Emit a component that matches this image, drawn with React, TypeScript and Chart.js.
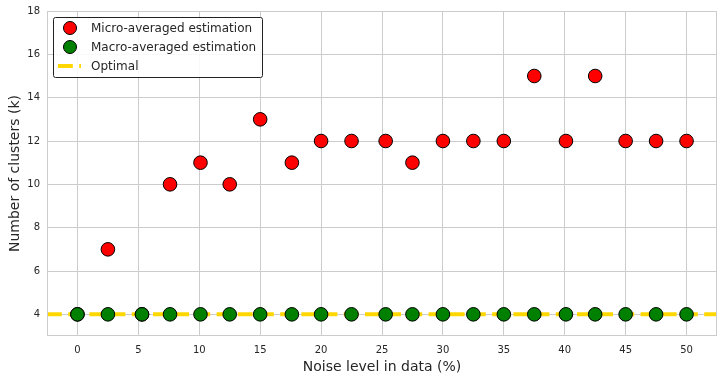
import React, { useEffect, useRef } from "react";
import { Chart, registerables } from "chart.js";

Chart.register(...registerables);

const noiseLevels = [0, 2.5, 5.3, 7.6, 10.1, 12.5, 15, 17.6, 20, 22.5, 25.3, 27.5, 30, 32.5, 35, 37.5, 40.1, 42.5, 45, 47.5, 50];
const microValues = [4, 7, 4, 10, 11, 10, 13, 11, 12, 12, 12, 11, 12, 12, 12, 15, 12, 15, 12, 12, 12];
const macroValues = [4, 4, 4, 4, 4, 4, 4, 4, 4, 4, 4, 4, 4, 4, 4, 4, 4, 4, 4, 4, 4];
const optimalValue = 4;
const xTicks = [0, 5, 10, 15, 20, 25, 30, 35, 40, 45, 50];
const yTicks = [4, 6, 8, 10, 12, 14, 16, 18];
const legendLabels = ["Micro-averaged estimation", "Macro-averaged estimation", "Optimal"];

const FONT = "'DejaVu Sans', sans-serif";
const DASH = [14.8, 6.4];

// plot frame inside the 723x381 canvas
const AREA = { left: 47, top: 11, right: 717, bottom: 336 };

const fixLayoutPlugin = {
  id: "fixLayout",
  afterLayout(chart: any) {
    const xs = chart.scales.x;
    const ys = chart.scales.y;
    xs.left = AREA.left;
    xs.right = AREA.right;
    xs.width = AREA.right - AREA.left;
    xs.top = AREA.bottom;
    xs.height = chart.height - AREA.bottom;
    xs.bottom = chart.height;
    xs.configure();
    ys.top = AREA.top;
    ys.bottom = AREA.bottom;
    ys.height = AREA.bottom - AREA.top;
    ys.right = AREA.left;
    ys.left = 7;
    ys.width = AREA.left - 7;
    ys.configure();
    const ca = chart.chartArea;
    ca.left = AREA.left;
    ca.top = AREA.top;
    ca.right = AREA.right;
    ca.bottom = AREA.bottom;
    ca.width = AREA.right - AREA.left;
    ca.height = AREA.bottom - AREA.top;
  },
};

const legendPlugin = {
  id: "insideLegend",
  afterDraw(chart: any) {
    const ctx = chart.ctx;
    const ca = chart.chartArea;
    const x0 = Math.round(ca.left) + 6;
    const y0 = Math.round(ca.top) + 6;
    const w = 209;
    const h = 60;
    ctx.save();
    ctx.fillStyle = "rgba(255,255,255,0.85)";
    ctx.strokeStyle = "#222";
    ctx.lineWidth = 1;
    ctx.beginPath();
    if (ctx.roundRect) ctx.roundRect(x0 + 0.5, y0 + 0.5, w, h, 2);
    else ctx.rect(x0 + 0.5, y0 + 0.5, w, h);
    ctx.fill();
    ctx.stroke();
    const rows = [y0 + 11, y0 + 30, y0 + 49];
    const colors = ["#ff0000", "#008000"];
    for (let i = 0; i < 2; i++) {
      ctx.beginPath();
      ctx.arc(x0 + 17, rows[i], 6.5, 0, Math.PI * 2);
      ctx.fillStyle = colors[i];
      ctx.fill();
      ctx.strokeStyle = "#000";
      ctx.lineWidth = 1;
      ctx.stroke();
    }
    ctx.beginPath();
    ctx.setLineDash(DASH);
    ctx.strokeStyle = "#ffd700";
    ctx.lineWidth = 4;
    ctx.moveTo(x0 + 5, rows[2]);
    ctx.lineTo(x0 + 28, rows[2]);
    ctx.stroke();
    ctx.setLineDash([]);
    ctx.fillStyle = "#262626";
    ctx.font = `12px ${FONT}`;
    ctx.textBaseline = "middle";
    ctx.textAlign = "left";
    for (let i = 0; i < 3; i++) {
      ctx.fillText(legendLabels[i], x0 + 38, rows[i] + 0.5);
    }
    ctx.restore();
  },
};

const borderPlugin = {
  id: "frame",
  afterDatasetsDraw(chart: any) {
    const ctx = chart.ctx;
    const ca = chart.chartArea;
    ctx.save();
    ctx.strokeStyle = "#cccccc";
    ctx.lineWidth = 1;
    ctx.strokeRect(Math.round(ca.left) + 0.5, Math.round(ca.top) + 0.5, Math.round(ca.right - ca.left) - 1, Math.round(ca.bottom - ca.top) - 1);
    ctx.restore();
  },
};

export default function App() {
  const ref = useRef<HTMLCanvasElement | null>(null);
  useEffect(() => {
    document.body.style.margin = "0";
    const canvas = ref.current;
    if (!canvas) return;
    const chart = new Chart(canvas, {
      type: "scatter",
      data: {
        datasets: [
          {
            label: "Optimal",
            type: "line",
            data: [
              { x: -2.5, y: optimalValue },
              { x: 52.5, y: optimalValue },
            ],
            borderColor: "#ffd700",
            borderWidth: 4,
            borderDash: DASH,
            pointRadius: 0,
            fill: false,
            order: 3,
          } as any,
          {
            label: "Micro-averaged estimation",
            data: noiseLevels.map((x, i) => ({ x, y: microValues[i] })),
            backgroundColor: "#ff0000",
            borderColor: "#000000",
            borderWidth: 1,
            pointRadius: 6.8,
            order: 2,
          },
          {
            label: "Macro-averaged estimation",
            data: noiseLevels.map((x, i) => ({ x, y: macroValues[i] })),
            backgroundColor: "#008000",
            borderColor: "#000000",
            borderWidth: 1,
            pointRadius: 6.8,
            order: 1,
          },
        ],
      },
      options: {
        animation: false,
        responsive: false,
        devicePixelRatio: 1,
        layout: { padding: { top: 11, right: 6, left: 7, bottom: 0 } },
        plugins: {
          legend: { display: false },
          tooltip: { enabled: false },
        },
        scales: {
          x: {
            type: "linear",
            min: -2.5,
            max: 52.5,
            afterBuildTicks: (s: any) => {
              s.ticks = xTicks.map((v) => ({ value: v }));
            },
            afterFit: (s: any) => {
              s.height = 45;
              s.paddingLeft = 0;
              s.paddingRight = 0;
            },
            grid: { color: "#cccccc", drawTicks: false, lineWidth: 1 },
            border: { display: false },
            ticks: {
              color: "#262626",
              font: { family: FONT, size: 10 },
              padding: 8,
            },
            title: {
              display: true,
              text: "Noise level in data (%)",
              color: "#262626",
              font: { family: FONT, size: 14 },
              padding: { top: 2, bottom: 5 },
            },
          },
          y: {
            type: "linear",
            min: 3,
            max: 18,
            afterBuildTicks: (s: any) => {
              s.ticks = yTicks.map((v) => ({ value: v }));
            },
            afterFit: (s: any) => {
              s.width = 40;
              s.paddingTop = 0;
              s.paddingBottom = 0;
            },
            grid: { color: "#cccccc", drawTicks: false, lineWidth: 1 },
            border: { display: false },
            ticks: {
              color: "#262626",
              font: { family: FONT, size: 10 },
              padding: 7,
            },
            title: {
              display: true,
              text: "Number of clusters (k)",
              color: "#262626",
              font: { family: FONT, size: 14 },
              padding: { top: 0, bottom: 4 },
            },
          },
        },
      },
      plugins: [fixLayoutPlugin, borderPlugin, legendPlugin],
    } as any);
    return () => chart.destroy();
  }, []);
  return (
    <div style={{ width: 723, height: 381 }}>
      <canvas ref={ref} width={723} height={381} style={{ display: "block" }} />
    </div>
  );
}
